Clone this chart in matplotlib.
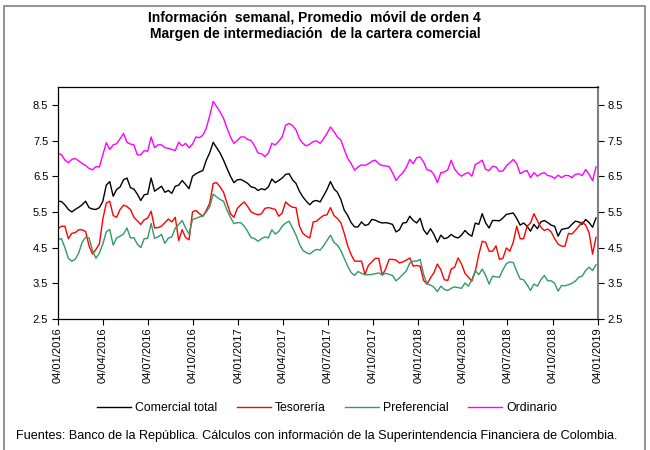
import matplotlib
matplotlib.use("Agg")
import matplotlib.pyplot as plt
import matplotlib.dates as mdates
from matplotlib.lines import Line2D
from matplotlib.patches import Rectangle
import pandas as pd

plt.rcParams['font.family'] = ['Liberation Sans', 'DejaVu Sans']

start_date = "2016-01-04"
n_weeks = 157

comercial_total = [
    5.8, 5.79, 5.7, 5.57, 5.5, 5.57, 5.63, 5.7, 5.8, 5.62, 5.58, 5.57, 5.62, 5.8, 6.25, 6.35, 5.94, 6.13, 6.2, 6.4, 6.45, 6.18, 6.14, 6.0, 5.82, 5.98, 6.0,
    6.45, 6.08, 6.15, 6.22, 6.05, 6.1, 6.02, 6.22, 6.25, 6.38, 6.27, 6.15, 6.5, 6.57, 6.62, 6.66, 6.95, 7.16, 7.45, 7.3, 7.15, 6.95, 6.72, 6.5, 6.32, 6.4,
    6.41, 6.36, 6.3, 6.2, 6.18, 6.1, 6.15, 6.12, 6.2, 6.42, 6.32, 6.38, 6.45, 6.55, 6.57, 6.4, 6.3, 6.08, 5.92, 5.8, 5.7, 5.8, 5.82, 5.78, 5.95, 6.13,
    6.35, 6.15, 6.05, 5.85, 5.55, 5.4, 5.2, 5.08, 5.08, 5.22, 5.12, 5.15, 5.29, 5.27, 5.22, 5.19, 5.2, 5.18, 5.15, 4.94, 5.0, 5.19, 5.2, 5.38, 5.26, 5.19,
    5.32, 5.0, 4.87, 5.03, 4.87, 4.65, 4.85, 4.75, 4.78, 4.87, 4.8, 4.77, 4.85, 4.98, 4.88, 4.82, 5.19, 5.15, 5.45, 5.19, 5.05, 5.26, 5.26, 5.25, 5.33, 5.43,
    5.45, 5.47, 5.32, 5.13, 5.19, 5.1, 4.96, 5.15, 5.03, 5.22, 5.26, 5.2, 5.13, 5.1, 4.82, 5.01, 5.03, 5.05, 5.15, 5.24, 5.22, 5.15, 5.29, 5.2, 5.07, 5.33,
]

tesoreria = [
    5.03, 5.1, 5.1, 4.75, 4.9, 4.92, 5.0, 5.0, 4.95, 4.55, 4.32, 4.45, 4.6, 5.3, 5.75, 5.8, 5.4, 5.35, 5.57, 5.69, 5.65, 5.57, 5.35, 5.25, 5.15, 5.28, 5.33,
    5.52, 5.05, 5.06, 5.1, 5.2, 5.3, 5.22, 5.35, 4.7, 5.0, 4.78, 4.72, 5.5, 5.54, 5.45, 5.38, 5.54, 5.75, 6.3, 6.32, 6.2, 6.05, 5.75, 5.45, 5.35, 5.6,
    5.7, 5.78, 5.65, 5.5, 5.45, 5.42, 5.45, 5.6, 5.62, 5.6, 5.57, 5.38, 5.47, 5.78, 5.69, 5.63, 5.62, 5.1, 4.9, 4.82, 4.77, 5.22, 5.24, 5.33, 5.4, 5.42,
    5.62, 5.4, 5.32, 5.2, 4.9, 4.55, 4.3, 4.12, 4.12, 4.12, 3.75, 4.0, 4.1, 4.2, 4.2, 3.73, 3.9, 4.17, 4.17, 4.15, 4.07, 4.1, 4.15, 4.21, 3.98, 4.0,
    3.98, 3.58, 3.48, 3.65, 3.8, 4.04, 3.88, 3.6, 3.58, 3.9, 3.95, 4.21, 4.04, 3.78, 3.67, 3.56, 3.84, 4.3, 4.68, 4.65, 4.4, 4.4, 4.55, 4.17, 4.2, 4.49,
    4.4, 4.65, 5.1, 4.75, 4.75, 5.1, 5.19, 5.45, 5.25, 5.07, 4.98, 5.02, 4.94, 4.75, 4.6, 4.54, 4.54, 4.9, 4.88, 4.98, 5.1, 5.22, 5.13, 4.91, 4.32, 4.79,
]

preferencial = [
    4.73, 4.75, 4.5, 4.2, 4.12, 4.17, 4.35, 4.65, 4.79, 4.77, 4.42, 4.2, 4.35, 4.6, 4.94, 5.01, 4.57, 4.77, 4.82, 4.88, 5.05, 4.77, 4.78, 4.6, 4.5, 4.75, 4.76,
    5.18, 4.76, 4.8, 4.87, 4.62, 4.77, 4.8, 5.05, 5.15, 5.26, 5.05, 4.88, 5.29, 5.32, 5.36, 5.38, 5.5, 5.65, 6.0, 5.92, 5.85, 5.8, 5.55, 5.35, 5.17, 5.2,
    5.2, 5.1, 4.95, 4.78, 4.75, 4.68, 4.75, 4.8, 4.77, 5.0, 4.88, 4.95, 5.1, 5.19, 5.24, 5.05, 4.85, 4.6, 4.42, 4.36, 4.32, 4.4, 4.45, 4.43, 4.55, 4.7,
    4.85, 4.65, 4.57, 4.42, 4.2, 3.98, 3.8, 3.72, 3.83, 3.78, 3.74, 3.74, 3.75, 3.77, 3.79, 3.74, 3.78, 3.75, 3.72, 3.57, 3.65, 3.75, 3.85, 4.07, 4.12, 4.12,
    4.17, 3.75, 3.48, 3.45, 3.39, 3.27, 3.42, 3.33, 3.3, 3.36, 3.4, 3.38, 3.36, 3.51, 3.42, 3.6, 3.86, 3.74, 3.9, 3.72, 3.48, 3.7, 3.68, 3.67, 3.88, 4.05,
    4.1, 4.08, 3.84, 3.62, 3.6, 3.46, 3.3, 3.48, 3.42, 3.6, 3.72, 3.57, 3.57, 3.5, 3.28, 3.44, 3.43, 3.46, 3.5, 3.56, 3.67, 3.7, 3.86, 3.95, 3.86, 4.02,
]

ordinario = [
    7.13, 7.11, 6.95, 6.88, 6.97, 7.0, 6.93, 6.86, 6.8, 6.72, 6.68, 6.77, 6.76, 7.1, 7.44, 7.25, 7.38, 7.41, 7.55, 7.7, 7.45, 7.4, 7.38, 7.1, 7.1, 7.22, 7.2,
    7.6, 7.3, 7.38, 7.38, 7.3, 7.28, 7.25, 7.22, 7.45, 7.35, 7.42, 7.3, 7.4, 7.6, 7.58, 7.65, 7.85, 8.2, 8.6, 8.45, 8.3, 8.12, 7.85, 7.6, 7.42, 7.5,
    7.6, 7.6, 7.53, 7.5, 7.35, 7.15, 7.13, 7.05, 7.15, 7.42, 7.38, 7.48, 7.6, 7.93, 7.98, 7.92, 7.8, 7.55, 7.42, 7.35, 7.4, 7.47, 7.49, 7.42, 7.55, 7.7,
    7.88, 7.75, 7.6, 7.52, 7.25, 7.0, 6.85, 6.67, 6.76, 6.82, 6.8, 6.85, 6.92, 6.95, 6.85, 6.8, 6.79, 6.77, 6.6, 6.38, 6.5, 6.6, 6.75, 6.97, 6.85, 7.02,
    7.04, 6.9, 6.68, 6.66, 6.55, 6.32, 6.6, 6.62, 6.68, 6.95, 6.7, 6.58, 6.5, 6.57, 6.6, 6.5, 6.83, 6.88, 6.95, 6.69, 6.66, 6.78, 6.76, 6.63, 6.65, 6.79,
    6.88, 6.97, 6.85, 6.57, 6.63, 6.66, 6.46, 6.6, 6.5, 6.57, 6.6, 6.52, 6.5, 6.44, 6.53, 6.46, 6.52, 6.52, 6.46, 6.55, 6.57, 6.52, 6.69, 6.55, 6.38, 6.76,
]

tick_dates = ["2016-01-04", "2016-04-04", "2016-07-04", "2016-10-04",
              "2017-01-04", "2017-04-04", "2017-07-04", "2017-10-04",
              "2018-01-04", "2018-04-04", "2018-07-04", "2018-10-04",
              "2019-01-04"]
y_ticks = [2.5, 3.5, 4.5, 5.5, 6.5, 7.5, 8.5]

series_names = ["Comercial total", "Tesorería", "Preferencial", "Ordinario"]
series_colors = ["#000000", "#FF0000", "#339966", "#FF00FF"]

title_lines = ["Información  semanal, Promedio  móvil de orden 4",
               "Margen de intermediación  de la cartera comercial"]
footnote = "Fuentes: Banco de la República. Cálculos con información de la Superintendencia Financiera de Colombia."

dates = pd.date_range(start_date, periods=n_weeks, freq="7D")

fig = plt.figure(figsize=(6.5, 4.5), dpi=100)
W, H = 650, 450
ax = fig.add_axes([58 / W, 1 - 319 / H, 540 / W, (319 - 87) / H])

for vals, name, col in zip([comercial_total, tesoreria, preferencial, ordinario],
                           series_names, series_colors):
    ax.plot(dates, vals, color=col, lw=1.0, label=name)

ax.set_xlim(pd.Timestamp(tick_dates[0]), pd.Timestamp(tick_dates[-1]))
ax.set_ylim(2.5, 9.0)
ax.set_xticks([pd.Timestamp(d) for d in tick_dates])
ax.xaxis.set_major_formatter(mdates.DateFormatter("%d/%m/%Y"))
ax.set_yticks(y_ticks)
ax.set_yticklabels([f"{v:.1f}" for v in y_ticks])
ax.tick_params(axis="x", rotation=90, labelsize=8, length=4, width=0.8, direction="out", pad=2)
ax.tick_params(axis="y", labelsize=8, length=4, width=0.8, direction="out",
               left=True, right=True, labelleft=True, labelright=True, pad=3)
for s in ["left", "bottom", "top"]:
    ax.spines[s].set_color("black")
    ax.spines[s].set_linewidth(0.9)
ax.spines["right"].set_color("#808080")
ax.spines["right"].set_linewidth(1.5)

fig.text(314 / W, 1 - 17 / H, title_lines[0], ha="center", va="center",
         fontsize=10, fontweight="bold")
fig.text(315 / W, 1 - 34 / H, title_lines[1], ha="center", va="center",
         fontsize=10, fontweight="bold")

handles = [Line2D([0], [0], color=c, lw=1.0) for c in series_colors]
fig.legend(handles, series_names, loc="center", bbox_to_anchor=(327 / W, 1 - 408 / H),
           ncol=4, frameon=False, fontsize=8.8, handlelength=2.8, handletextpad=0.3,
           columnspacing=1.6)

fig.text(317 / W, 1 - 436 / H, footnote, ha="center", va="center", fontsize=9.1)

fig.add_artist(Rectangle((4 / W, -0.05), 641 / W, 1.05 - 6 / H, transform=fig.transFigure,
                         fill=False, edgecolor="#808080", lw=1.2))

fig.savefig("out.png", dpi=100)
